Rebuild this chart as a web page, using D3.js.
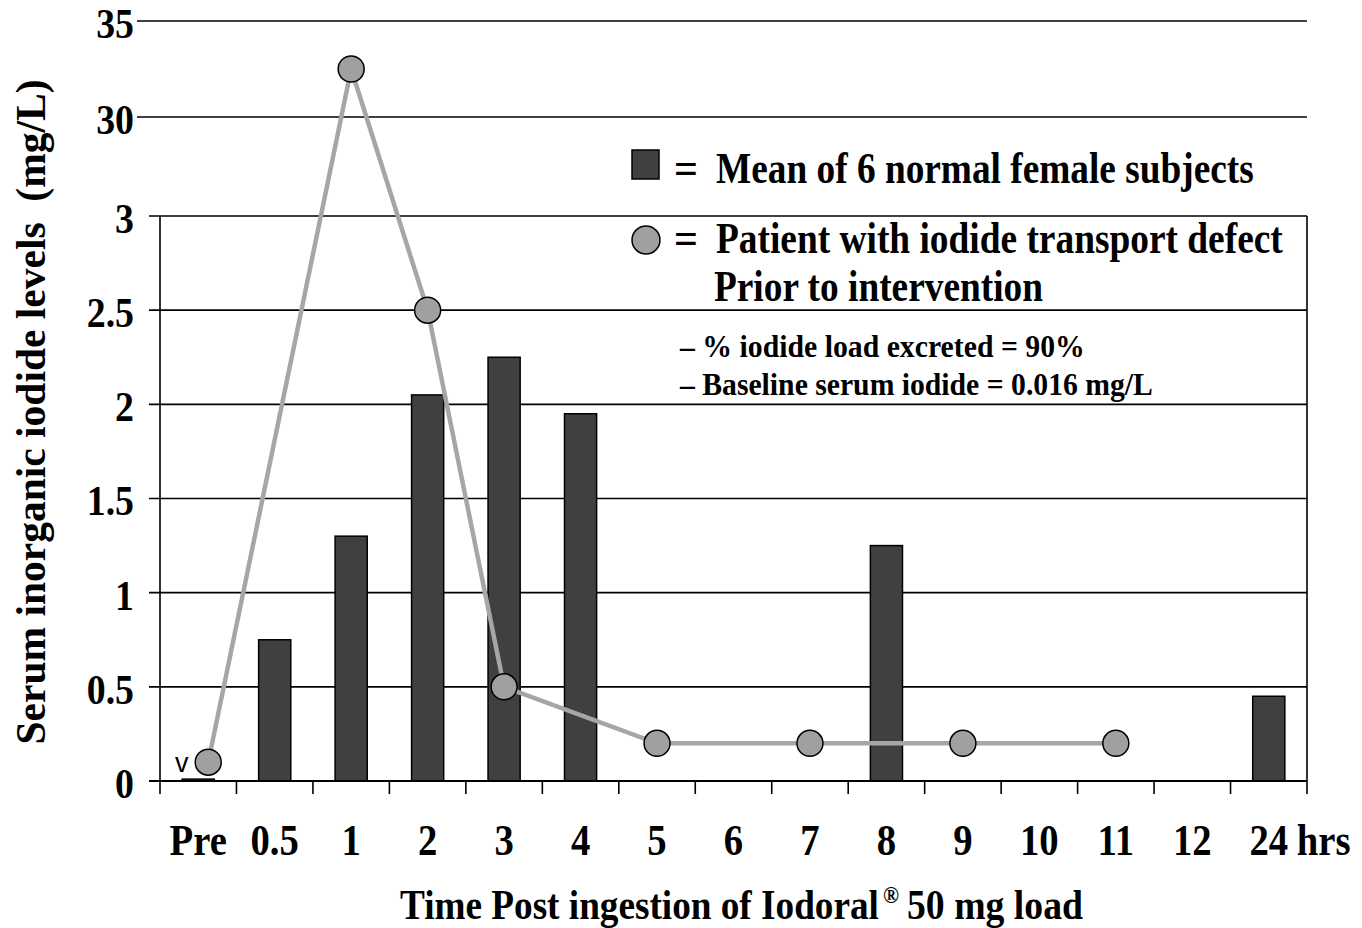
<!DOCTYPE html>
<html>
<head>
<meta charset="utf-8">
<script src="https://cdn.jsdelivr.net/npm/d3@7"></script>
<style>
  body { margin: 0; background: #fff; }
  svg text { font-family: "Liberation Serif", "Times New Roman", serif; font-weight: bold; fill: #000; }
</style>
</head>
<body>
<div id="chart"></div>
<script>
// Time points after the load
const categories = ["Pre", "0.5", "1", "2", "3", "4", "5", "6", "7", "8", "9", "10", "11", "12", "24"];
// Mean of 6 normal female subjects (bars), null = no bar
const meanValues = [0.01, 0.75, 1.3, 2.05, 2.25, 1.95, null, null, null, 1.25, null, null, null, null, 0.45];
// Patient with iodide transport defect (circles + line)
const patientValues = [0.1, null, 32.5, 2.5, 0.5, null, 0.2, null, 0.2, null, 0.2, null, 0.2, null, null];
// Broken y axis: lower part 0..3, upper part 30..35
const yTicksLow = [0, 0.5, 1, 1.5, 2, 2.5, 3];
const yTicksHigh = [30, 35];

const width = 1362, height = 928;
const left = 160, right = 1307, bottom = 781;
const squeeze = 0.86; // the source type is narrow and tall

const svg = d3.select("#chart").append("svg")
    .attr("width", width)
    .attr("height", height);

const x = d3.scaleBand().domain(categories).range([left, right]);
const y = d3.scaleLinear().domain([0, 3, 30, 35]).range([bottom, 216, 117, 21]);

// squeeze a text horizontally so it spans w pixels
function fitText(sel, d) {
    const len = sel.node().getComputedTextLength();
    const sx = d.w / len;
    const rot = d.rot ? ` rotate(${d.rot})` : "";
    sel.attr("transform", `translate(${d.x},${d.y})${rot} scale(${sx},1)`);
}

// gridlines
svg.append("g").selectAll("line")
    .data(yTicksLow.slice(1))
    .join("line")
    .attr("x1", left - 11).attr("x2", right)
    .attr("y1", d => y(d)).attr("y2", d => y(d))
    .attr("stroke", "#000").attr("stroke-width", 1.6);

svg.append("g").selectAll("line")
    .data(yTicksHigh)
    .join("line")
    .attr("x1", 137).attr("x2", right)
    .attr("y1", d => y(d)).attr("y2", d => y(d))
    .attr("stroke", "#000").attr("stroke-width", 1.6);

// y tick labels (narrowed horizontally)
svg.append("g")
    .attr("transform", "translate(134,0) scale(0.9,1)")
    .selectAll("text")
    .data(yTicksLow.concat(yTicksHigh))
    .join("text")
    .attr("x", 0)
    .attr("y", d => y(d) + 17)
    .attr("text-anchor", "end")
    .attr("font-size", 42)
    .text(d => d);

// bars
const barW = x.bandwidth() * 0.42;
svg.append("g").selectAll("rect")
    .data(categories.map((c, i) => ({ c, v: meanValues[i] })).filter(d => d.v != null))
    .join("rect")
    .attr("x", d => x(d.c) + (x.bandwidth() - barW) / 2)
    .attr("y", d => y(d.v))
    .attr("width", barW)
    .attr("height", d => y(0) - y(d.v))
    .attr("fill", "#404040")
    .attr("stroke", "#000")
    .attr("stroke-width", 1.5);

// left and right frame, bottom axis line
svg.append("line")
    .attr("x1", left).attr("x2", left).attr("y1", y(3)).attr("y2", bottom + 13)
    .attr("stroke", "#000").attr("stroke-width", 1.6);
svg.append("line")
    .attr("x1", right).attr("x2", right).attr("y1", y(3)).attr("y2", bottom + 13)
    .attr("stroke", "#000").attr("stroke-width", 1.6);
svg.append("line")
    .attr("x1", left - 11).attr("x2", right).attr("y1", bottom).attr("y2", bottom)
    .attr("stroke", "#000").attr("stroke-width", 1.8);

// x tick marks at category boundaries
svg.append("g").selectAll("line")
    .data(categories.slice(1))
    .join("line")
    .attr("x1", d => x(d)).attr("x2", d => x(d))
    .attr("y1", bottom).attr("y2", bottom + 13)
    .attr("stroke", "#000").attr("stroke-width", 1.6);

// x tick labels
const xAxis = svg.append("g")
    .attr("transform", `translate(0,${bottom})`)
    .call(d3.axisBottom(x).tickSize(0).tickPadding(0));
xAxis.select(".domain").remove();
xAxis.selectAll(".tick")
    .attr("transform", d => `translate(${x(d) + x.bandwidth() / 2},0) scale(${squeeze},1)`);
xAxis.selectAll("text")
    .attr("y", 74)
    .attr("dy", null)
    .attr("font-size", 45)
    .attr("font-family", null);

svg.append("text")
    .attr("transform", `translate(${x("24") + x.bandwidth() / 2 + 28},${bottom + 74}) scale(${squeeze},1)`)
    .attr("font-size", 45)
    .text("hrs");

// "v" marker near the pre value
svg.append("text")
    .attr("x", 175)
    .attr("y", bottom - 9)
    .attr("font-size", 27)
    .style("font-family", "'Liberation Sans', Arial, sans-serif")
    .style("font-weight", "normal")
    .text("v");

// patient line and circles (pre point sits a little right of its slot)
const pts = categories.map((c, i) => ({ c, v: patientValues[i] })).filter(d => d.v != null);
const px = d => x(d.c) + x.bandwidth() / 2 + (d.c === "Pre" ? 10 : 0);
const line = d3.line()
    .x(px)
    .y(d => y(d.v));

svg.append("path")
    .attr("d", line(pts))
    .attr("fill", "none")
    .attr("stroke", "#a6a6a6")
    .attr("stroke-width", 4.5);

svg.append("g").selectAll("circle")
    .data(pts)
    .join("circle")
    .attr("cx", px)
    .attr("cy", d => y(d.v))
    .attr("r", 13)
    .attr("fill", "#a0a0a0")
    .attr("stroke", "#000")
    .attr("stroke-width", 1.5);

// legend
const legend = svg.append("g");
legend.append("rect")
    .attr("x", 632).attr("y", 150).attr("width", 27).attr("height", 29)
    .attr("fill", "#404040").attr("stroke", "#000").attr("stroke-width", 1.5);
legend.append("circle")
    .attr("cx", 646).attr("cy", 240).attr("r", 14)
    .attr("fill", "#a0a0a0").attr("stroke", "#000").attr("stroke-width", 1.5);

const legendText = [
    { t: "=", x: 674, y: 183, w: 24, fs: 44 },
    { t: "Mean of 6 normal female subjects", x: 716, y: 183, w: 538, fs: 44 },
    { t: "=", x: 674, y: 253, w: 24, fs: 44 },
    { t: "Patient with iodide transport defect", x: 716, y: 253, w: 567, fs: 44 },
    { t: "Prior to intervention", x: 714, y: 301, w: 329, fs: 44 },
    { t: "\u2013 % iodide load excreted = 90%", x: 680, y: 357, w: 405, fs: 31 },
    { t: "\u2013 Baseline serum iodide = 0.016 mg/L", x: 680, y: 395, w: 473, fs: 31 }
];
legend.selectAll("text.lg")
    .data(legendText)
    .join("text")
    .attr("class", "lg")
    .attr("font-size", d => d.fs)
    .text(d => d.t)
    .each(function (d) { fitText(d3.select(this), d); });

// axis titles
const xTitle = [
    { t: "Time Post ingestion of Iodoral", x: 400, y: 919, w: 479, fs: 43 },
    { t: "\u00ae", x: 883, y: 903, w: 16, fs: 24 },
    { t: "50 mg load", x: 907, y: 919, w: 176, fs: 43 }
];
svg.append("g").selectAll("text")
    .data(xTitle)
    .join("text")
    .attr("font-size", d => d.fs)
    .text(d => d.t)
    .each(function (d) { fitText(d3.select(this), d); });

svg.append("text")
    .attr("text-anchor", "middle")
    .attr("font-size", 43)
    .text("Serum inorganic iodide levels\u00a0\u00a0(mg/L)")
    .each(function () { fitText(d3.select(this), { x: 45, y: 412, w: 665, rot: -90 }); });
</script>
</body>
</html>
